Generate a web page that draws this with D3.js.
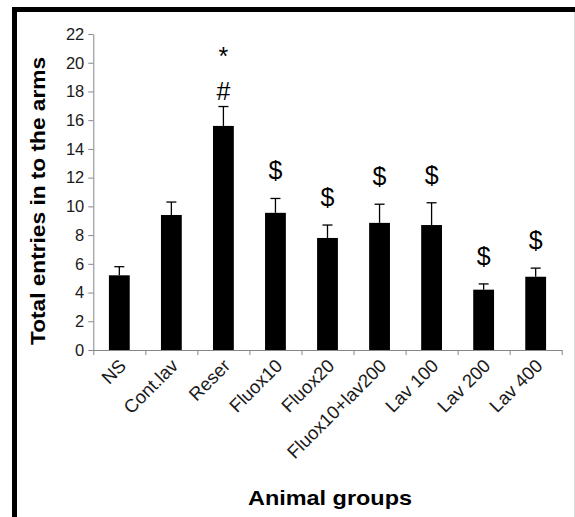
<!DOCTYPE html>
<html>
<head>
<meta charset="utf-8">
<script src="https://cdn.jsdelivr.net/npm/d3@7"></script>
<style>
  body { margin: 0; background: #fff; }
  svg { display: block; }
  text { font-family: "Liberation Sans", Arial, sans-serif; }
</style>
</head>
<body>
<div id="chart"></div>
<script>
// values
const groups = ["NS", "Cont.lav", "Reser", "Fluox10", "Fluox20", "Fluox10+lav200", "Lav 100", "Lav 200", "Lav 400"];
const means  = [5.2, 9.4, 15.6, 9.55, 7.8, 8.85, 8.7, 4.2, 5.1];
const errors = [0.6, 0.9, 1.35, 1.0, 0.9, 1.3, 1.55, 0.4, 0.6];
const marks  = [[], [], ["#", "*"], ["$"], ["$"], ["$"], ["$"], ["$"], ["$"]];
const yTicks = [0, 2, 4, 6, 8, 10, 12, 14, 16, 18, 20, 22];

const W = 575, H = 517;
const plot = { left: 93.3, right: 561.7, top: 34, bottom: 350 };

const svg = d3.select("#chart")
  .append("svg")
    .attr("width", W)
    .attr("height", H);

// frame
svg.append("rect").attr("x", 12).attr("y", 7).attr("width", 563).attr("height", 5).attr("fill", "#000");
svg.append("rect").attr("x", 12).attr("y", 7).attr("width", 5).attr("height", 510).attr("fill", "#000");
svg.append("line").attr("x1", 574.5).attr("x2", 574.5).attr("y1", 12).attr("y2", H)
  .attr("stroke", "#d9d9d9").attr("stroke-width", 1);

const x = d3.scaleBand()
  .domain(groups)
  .range([plot.left, plot.right])
  .paddingInner(0.6)
  .paddingOuter(0.3);

const xEdges = d3.scaleLinear()
  .domain([0, groups.length])
  .range([plot.left, plot.right]);

const y = d3.scaleLinear()
  .domain([0, 22])
  .range([plot.bottom, plot.top]);

// y axis
const yAxis = svg.append("g")
  .attr("transform", `translate(${plot.left},0)`)
  .call(d3.axisLeft(y).tickValues(yTicks).tickSize(5).tickSizeOuter(0).tickPadding(4));
yAxis.select(".domain").attr("stroke", "#868686");
yAxis.selectAll(".tick line").attr("stroke", "#868686");
yAxis.selectAll("text")
  .attr("font-size", 16.5)
  .attr("fill", "#1a1a1a")
  .attr("font-family", "Liberation Sans, Arial, sans-serif");

// x axis: ticks at category boundaries
const xAxis = svg.append("g")
  .attr("transform", `translate(0,${plot.bottom})`)
  .call(d3.axisBottom(xEdges).tickValues(d3.range(0, groups.length + 1)).tickSize(5).tickSizeOuter(0).tickFormat(""));
xAxis.select(".domain").attr("stroke", "#868686");
xAxis.selectAll(".tick line").attr("stroke", "#868686");

// category labels
svg.selectAll(".xlab")
  .data(groups)
  .enter()
  .append("text")
    .attr("class", "xlab")
    .attr("transform", d => `translate(${x(d) + x.bandwidth() / 2 + 8},${plot.bottom + 17}) rotate(-45)`)
    .attr("text-anchor", "end")
    .attr("font-size", 18.5)
    .attr("fill", "#1a1a1a")
    .text(d => d);

// bars
svg.selectAll(".bar")
  .data(groups)
  .enter()
  .append("rect")
    .attr("class", "bar")
    .attr("x", d => x(d))
    .attr("y", (d, i) => y(means[i]))
    .attr("width", x.bandwidth())
    .attr("height", (d, i) => plot.bottom - y(means[i]))
    .attr("fill", "#000");

// error bars (upper only)
const err = svg.selectAll(".err")
  .data(groups)
  .enter()
  .append("g")
    .attr("class", "err")
    .attr("stroke", "#000")
    .attr("stroke-width", 1.3);

err.append("line")
  .attr("x1", d => x(d) + x.bandwidth() / 2)
  .attr("x2", d => x(d) + x.bandwidth() / 2)
  .attr("y1", (d, i) => y(means[i]))
  .attr("y2", (d, i) => y(means[i] + errors[i]));

err.append("line")
  .attr("x1", d => x(d) + x.bandwidth() / 2 - 5)
  .attr("x2", d => x(d) + x.bandwidth() / 2 + 5)
  .attr("y1", (d, i) => y(means[i] + errors[i]))
  .attr("y2", (d, i) => y(means[i] + errors[i]));

// significance marks, stacked above each error bar
groups.forEach((g, i) => {
  marks[i].forEach((m, k) => {
    svg.append("text")
      .attr("x", x(g) + x.bandwidth() / 2)
      .attr("y", y(means[i] + errors[i]) - (m === "$" ? 19 : 7) - k * 35)
      .attr("text-anchor", "middle")
      .attr("font-size", 25)
      .attr("fill", "#000")
      .text(m);
  });
});

// axis titles
svg.append("text")
  .attr("transform", `translate(45,${(57 + 345) / 2}) rotate(-90)`)
  .attr("text-anchor", "middle")
  .attr("font-size", 20)
  .attr("font-weight", "bold")
  .attr("textLength", 288)
  .attr("lengthAdjust", "spacingAndGlyphs")
  .text("Total entries in to the arms");

svg.append("text")
  .attr("x", 330)
  .attr("y", 505)
  .attr("text-anchor", "middle")
  .attr("font-size", 21)
  .attr("font-weight", "bold")
  .attr("textLength", 164)
  .attr("lengthAdjust", "spacingAndGlyphs")
  .text("Animal groups");
</script>
</body>
</html>
